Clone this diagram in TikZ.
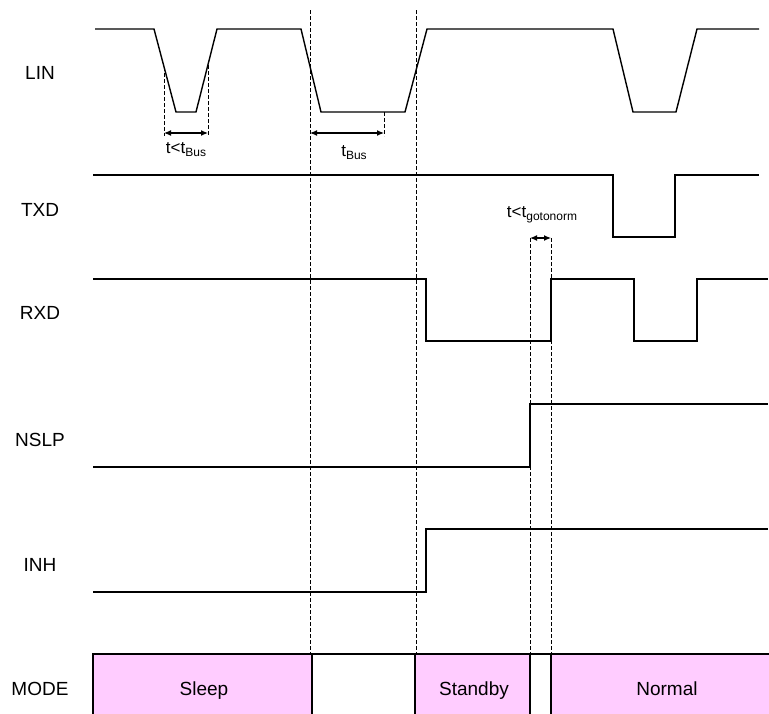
\documentclass[tikz,border=0pt]{standalone}
\usepackage{fontspec}
\setmainfont{Liberation Sans}
\usetikzlibrary{arrows.meta}
\definecolor{modepink}{HTML}{FFCCFF}
\newcommand{\tsub}[1]{\raisebox{-3pt}{\fontsize{12}{12}\selectfont #1}}
\tikzset{
  sig/.style={line width=1.4pt, line join=miter},
  guide/.style={line width=1pt, dash pattern=on 4pt off 2pt},
  span/.style={{Latex[length=7pt,width=6pt]}-{Latex[length=7pt,width=6pt]}, line width=1.2pt},
  lbl/.style={font=\fontsize{19}{22}\selectfont},
  modelbl/.style={lbl, anchor=base},
  tlbl/.style={font=\fontsize{17}{19}\selectfont, anchor=base},
  modebox/.style={draw, fill=modepink, line width=1.4pt}
}
\begin{document}
\begin{tikzpicture}[x=1pt,y=-1pt]
\clip (0,0) rectangle (769,713);
\useasboundingbox (0,0) rectangle (769,713);

% --- signal names
\node[lbl] (lin)  at (40,73)  {LIN};
\node[lbl] (txd)  at (40,210) {TXD};
\node[lbl] (rxd)  at (40,313) {RXD};
\node[lbl] (nslp) at (40,440) {NSLP};
\node[lbl] (inh)  at (40,565) {INH};
\node[modelbl] (mode) at (40,695) {MODE};

% --- waveforms
\draw[sig] (95,29) -- (154,29) -- (176,112) -- (196,112) -- (217,29) -- (301,29)
  -- (321,112) -- (405,112) -- (427,29) -- (613,29) -- (633,112) -- (676,112)
  -- (697,29) -- (759,29);
\draw[sig] (93,175) -- (613,175) -- (613,237) -- (675,237) -- (675,175) -- (759,175);
\draw[sig] (93,279) -- (426,279) -- (426,341) -- (551,341) -- (551,279) -- (634,279)
  -- (634,341) -- (697,341) -- (697,279) -- (768,279);
\draw[sig] (93,467) -- (530,467) -- (530,404) -- (768,404);
\draw[sig] (93,592) -- (426,592) -- (426,529) -- (768,529);

% --- mode row
\draw[modebox] (93,654) rectangle (312,730);
\draw[modebox] (415,654) rectangle (530,730);
\draw[modebox] (551,654) rectangle (780,730);
\draw[sig] (93,654) -- (769,654);
\node[modelbl] (sleep)   at (204,695) {Sleep};
\node[modelbl] (standby) at (474,695) {Standby};
\node[modelbl] (normal)  at (667,695) {Normal};

% --- timing marks
\coordinate (busA) at (164,133);
\coordinate (busB) at (208,133);
\coordinate (slpA) at (310,133);
\coordinate (slpB) at (384,133);
\coordinate (gotoA) at (530,238);
\coordinate (gotoB) at (551,238);
\draw[guide] (310,10) -- (310,654);
\draw[guide] (416,10) -- (416,654);
\draw[guide] (164,67) -- (164,136);
\draw[guide] (208,65) -- (208,136);
\draw[guide] (384,112) -- (384,136);
\draw[guide] (gotoA) -- (530,654);
\draw[guide] (gotoB) -- (551,654);
\draw[span] (busA) -- (busB);
\draw[span] (slpA) -- (slpB);
\draw[span] (gotoA) -- (gotoB);
\node[tlbl] (tshort) at (186,153) {t<t\tsub{Bus}};
\node[tlbl] (tbus)   at (354,156) {t\tsub{Bus}};
\node[tlbl] (tgoto)  at (542,217) {t<t\tsub{gotonorm}};
\end{tikzpicture}
\end{document}
